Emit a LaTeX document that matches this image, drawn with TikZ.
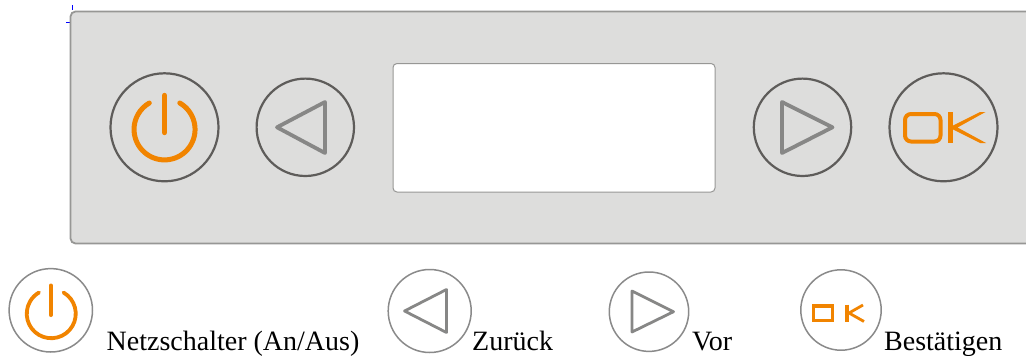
\documentclass[tikz,border=0pt]{standalone}
\usepackage{fontspec}
\setmainfont{Liberation Serif}
\definecolor{panelfill}{HTML}{DDDDDC}
\definecolor{panelline}{HTML}{979795}
\definecolor{ringdark}{HTML}{5E5C5A}
\definecolor{ringsoft}{HTML}{8A8A8A}
\definecolor{trigray}{HTML}{878786}
\definecolor{okorange}{HTML}{F18400}
\tikzset{
  panel/.style={draw=panelline,fill=panelfill,line width=1.8pt,rounded corners=5pt},
  screen/.style={draw=panelline,fill=white,line width=1pt,rounded corners=4pt},
  bigring/.style={draw=ringdark,line width=2.2pt},
  smallring/.style={draw=ringsoft,fill=white,line width=1.5pt},
  tri/.style={draw=trigray,line width=3.8pt,line join=round,line cap=round},
  trismall/.style={draw=trigray,line width=2.8pt,line join=round,line cap=round},
  orangeline/.style={draw=okorange,line width=#1,line cap=round,line join=round},
  caption/.style={anchor=base west,inner sep=0pt,font=\fontsize{28}{30}\selectfont,text=black},
  guide/.style={draw=blue,line width=0.8pt}
}
\begin{document}
\begin{tikzpicture}[x=1pt,y=-1pt]
\useasboundingbox (0,0) rectangle (1026,356);
\clip (0,0) rectangle (1026,356);
% guide marks
\draw[guide] (72,5) -- (72,10) (72,15) -- (72,22.5) (66,22.7) -- (72,22.7);
% panel
\path[panel] (70.5,11.5) rectangle (1040,243.5);
\path[screen] (393,63.5) rectangle (715,192);
% big power
\path[bigring] (164.5,127.3) circle [radius=54];
\draw[orangeline=5pt] (179.8,103) arc [start angle=-60,end angle=240,radius=30.5];
\draw[orangeline=5.4pt] (164.5,95.5) -- (164.5,132.5);
% big back
\path[bigring] (305.3,127.3) circle [radius=48.7];
\path[tri] (277,127.3) -- (325,102) -- (325,153) -- cycle;
% big forward
\path[bigring] (802.5,127.3) circle [radius=48.7];
\path[tri] (782,102) -- (782,153) -- (832.5,127.3) -- cycle;
% big OK
\path[bigring] (943.5,127.3) circle [radius=54];
\draw[orangeline=4pt,rounded corners=6pt] (905,114) rectangle (940.5,141.5);
\draw[okorange,line width=4.4pt] (950.5,112) -- (950.5,143);
\fill[okorange] (985.5,112) -- (980,112) -- (952,126) -- (952,129) -- (980,143) -- (986,143) -- (957.5,127.5) -- cycle;
% small icons
\path[smallring] (50.8,310.3) circle [radius=41.7];
\draw[orangeline=3.8pt] (63.5,292.5) arc [start angle=-60,end angle=240,radius=24.5];
\draw[orangeline=4pt] (50.8,285.5) -- (50.8,315);
\path[smallring] (429.7,311) circle [radius=41.5];
\path[trismall] (404.5,311) -- (446.5,289.5) -- (446.5,332.5) -- cycle;
\path[smallring] (649,311.7) circle [radius=39.7];
\path[trismall] (632,291) -- (632,332) -- (673.5,311.7) -- cycle;
\path[smallring] (841,310) circle [radius=40.2];
\draw[okorange,line width=3.2pt] (813.5,306) rectangle (832.5,320.5);
\draw[okorange,line width=3.2pt] (847,304.5) -- (847,321.5);
\draw[okorange,line width=2.8pt] (863,305) -- (849,313) -- (864,321.5);
% captions
\node[caption] (netz) at (106.5,350.5) {Netzschalter (An/Aus)};
\node[caption] (zur) at (472,350.5) {Zurück};
\node[caption] (vor) at (692,350.5) {Vor};
\node[caption] (best) at (884,350.5) {Bestätigen};
\end{tikzpicture}
\end{document}
